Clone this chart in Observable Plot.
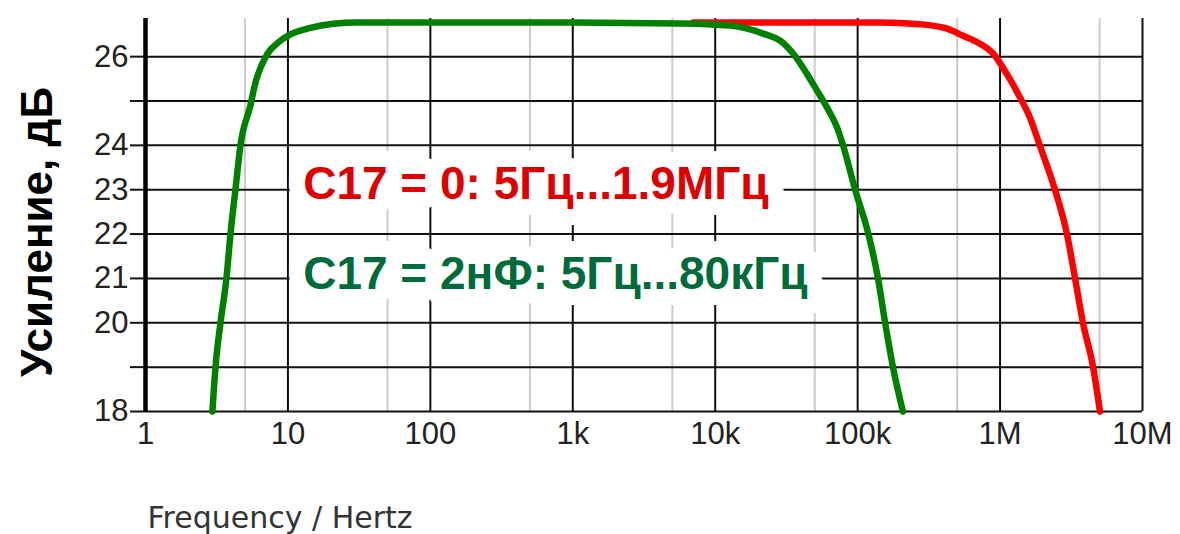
<!DOCTYPE html>
<html>
<head>
<meta charset="utf-8">
<script src="https://cdn.jsdelivr.net/npm/d3@7"></script>
<script src="https://cdn.jsdelivr.net/npm/@observablehq/plot@0.6"></script>
<style>
  html, body { margin: 0; padding: 0; background: #fff; }
  #chart svg { display: block; }
</style>
</head>
<body>
<div id="chart"></div>
<script>
// ---- data ----
const freqGreen = [2.95, 3.1, 3.36, 3.7, 3.95, 4.28, 4.64, 5.45, 5.9, 7.2, 8.4, 10.4, 14.4, 20.8, 30.7, 100, 1000, 5700, 12700, 16800, 21700, 28600, 35200, 44300, 52000, 61000, 71800, 79000, 96000, 119000, 139000, 156000, 177000, 208000];
const gainGreen = [18, 19, 20, 21, 22, 23, 24, 24.9, 25.4, 26.07, 26.3, 26.5, 26.65, 26.74, 26.77, 26.77, 26.77, 26.75, 26.7, 26.63, 26.52, 26.36, 26.07, 25.6, 25.23, 24.85, 24.4, 24.0, 23, 22, 21, 20, 19, 18];

const freqRed = [7000, 50000, 144000, 275000, 425000, 550000, 724000, 893000, 1120000, 1380000, 1620000, 1900000, 2430000, 2950000, 3360000, 3820000, 4500000, 5030000];
const gainRed = [26.77, 26.77, 26.77, 26.73, 26.63, 26.47, 26.29, 26.07, 25.6, 25.08, 24.63, 24.0, 23, 22, 21, 20, 19, 18];

const xDecades = [1, 10, 100, 1000, 10000, 100000, 1000000, 10000000];
const xTickLabels = ["1", "10", "100", "1k", "10k", "100k", "1M", "10M"];
const xMinor = [5, 50, 500, 5000, 50000, 500000, 5000000];
const yTicks = [18, 19, 20, 21, 22, 23, 24, 25, 26];
const yTickLabels = ["18", "", "20", "21", "22", "23", "24", "", "26"];

const labelTexts = ["C17 = 0: 5Гц...1.9МГц", "C17 = 2нФ: 5Гц...80кГц"];
const labelFreq = [12.8, 12.8];
const labelGain = [23.12, 21.1];
const labelColors = ["#dd0000", "#006b3a"];

const xTitle = "Frequency / Hertz";
const yTitle = "Усиление, дБ";

// ---- tables built from the arrays ----
const green = freqGreen.map((f, i) => ({f, g: gainGreen[i]}));
const red = freqRed.map((f, i) => ({f, g: gainRed[i]}));
const labels = labelTexts.map((t, i) => ({t, f: labelFreq[i], g: labelGain[i], c: labelColors[i]}));
const xLabelMap = new Map(xDecades.map((d, i) => [d, xTickLabels[i]]));
const yLabelMap = new Map(yTicks.map((d, i) => [d, yTickLabels[i]]));

const font = "'Liberation Sans', Arial, sans-serif";

const chart = Plot.plot({
  width: 1180,
  height: 534,
  marginLeft: 145,
  marginRight: 38,
  marginTop: 18,
  marginBottom: 123,
  style: {fontFamily: font, background: "#fff", color: "#000"},
  x: {type: "log", domain: [1, 1e7]},
  y: {domain: [18, 26.86]},
  marks: [
    Plot.ruleX(xMinor, {stroke: "#cccccc", strokeWidth: 2}),
    Plot.ruleX(xDecades.slice(1), {stroke: "#111", strokeWidth: 2}),
    Plot.ruleY(yTicks, {stroke: "#111", strokeWidth: 2}),
    Plot.axisY({
      ticks: yTicks,
      tickSize: 15,
      tickPadding: 2,
      tickFormat: d => yLabelMap.get(d),
      fontSize: 31,
      stroke: "#111",
      strokeWidth: 2,
      fill: "#222",
      label: null
    }),
    Plot.axisX({
      ticks: xDecades,
      tickSize: 0,
      tickPadding: 10,
      tickFormat: d => xLabelMap.get(d),
      fontSize: 31,
      fill: "#222",
      label: null
    }),
    Plot.ruleX([1], {stroke: "#000", strokeWidth: 4.5}),
    Plot.text(labels, {
      x: "f", y: "g", text: "t", fill: "c",
      stroke: "white", strokeWidth: 32, paintOrder: "stroke", strokeLinejoin: "round",
      textAnchor: "start", fontSize: 46, fontWeight: "bold", fontFamily: font
    }),
    Plot.line(red, {x: "f", y: "g", stroke: "#ff0000", strokeWidth: 6.5, curve: "monotone-x"}),
    Plot.line(green, {x: "f", y: "g", stroke: "#008000", strokeWidth: 6.5, curve: "monotone-x"}),
    Plot.text([xTitle], {
      frameAnchor: "bottom-left", textAnchor: "start", dx: 2, dy: 116,
      fontSize: 30, fill: "#333", fontFamily: "'DejaVu Sans', sans-serif"
    }),
    Plot.text([yTitle], {
      frameAnchor: "left", textAnchor: "middle", rotate: -90, dx: -108, dy: 17,
      fontSize: 44, fontWeight: "bold", fill: "#000", fontFamily: font
    })
  ]
});
document.getElementById("chart").appendChild(chart);
</script>
</body>
</html>
